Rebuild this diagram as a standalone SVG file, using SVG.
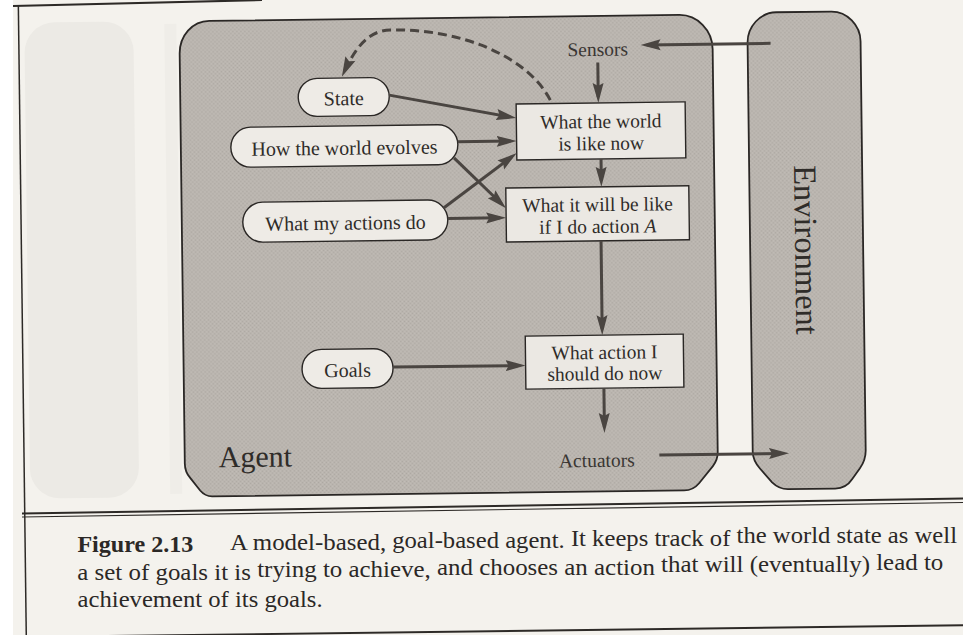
<svg xmlns="http://www.w3.org/2000/svg" width="963" height="635" viewBox="0 0 963 635">
  <defs>
    <style>
      .txt { font-family: "Liberation Serif", "Times New Roman", serif; fill: #2f2c29; }
      .node { font-size: 20px; text-anchor: middle; }
      .box-label { font-size: 19.5px; text-anchor: middle; }
      .port { font-size: 19.5px; text-anchor: middle; fill: #3a3633; }
      .pill { fill: #eeebe6; stroke: #2a2725; stroke-width: 1.4; }
      .box { fill: #ebe8e3; stroke: #2a2725; stroke-width: 1.4; }
      .panel { fill: url(#grain); stroke: #2a2725; stroke-width: 1.8; }
      .flow { fill: none; stroke: #4a4541; stroke-width: 3; marker-end: url(#ah); }
      .dashed { fill: none; stroke: #4a4541; stroke-width: 3; stroke-dasharray: 9 5; marker-end: url(#ah); }
      .rule { stroke: #2d2a27; fill: none; }
      .caption { font-size: 22.5px; fill: #2b2826; }
    </style>
    <pattern id="grain" width="4" height="4" patternUnits="userSpaceOnUse">
      <rect width="4" height="4" fill="#bab5af"/>
      <rect x="0" y="0" width="1" height="1" fill="#aca7a1"/>
      <rect x="2" y="2" width="1" height="1" fill="#afaaa4"/>
      <rect x="2" y="0" width="1" height="1" fill="#c3beb8"/>
      <rect x="0" y="2" width="1" height="1" fill="#c1bcb6"/>
    </pattern>
    <marker id="ah" markerUnits="userSpaceOnUse" markerWidth="22" markerHeight="14" refX="14" refY="7" orient="auto">
      <path d="M0,1.5 L20,7 L0,12.5 L3,7 Z" fill="#4a4541"/>
    </marker>
  </defs>

  <!-- paper -->
  <rect x="0" y="0" width="963" height="635" fill="#ffffff"/>
  <rect x="13" y="0" width="950" height="635" fill="#f4f2ed"/>

  <!-- page frame top edge and caption rules -->
  <g id="rules">
    <line class="rule" x1="13" y1="6" x2="262" y2="0" stroke-width="2"/>
    <line class="rule" x1="22" y1="513.5" x2="963" y2="498.5" stroke-width="2"/>
    <line class="rule" x1="22" y1="517" x2="963" y2="502.5" stroke-width="1.2"/>
  </g>

  <g transform="rotate(-0.72 480 317)">
    <!-- faint show-through shape on the left margin -->
    <rect x="28" y="17" width="109" height="476" rx="30" fill="#eceae5"/>
    <rect x="168" y="20" width="12" height="470" fill="#efede8"/>

    <!-- page frame -->
    <line class="rule" x1="22.3" y1="0" x2="22.3" y2="645" stroke-width="1.5"/>
    <line class="rule" x1="22.3" y1="631.3" x2="980" y2="631.3" stroke-width="2"/>

    <!-- agent panel -->
    <g id="agent">
      <path class="panel" d="M213,17.5 H683 C701,17.5 716,33 716,52 V455 Q716,463 711,469 L697,486 Q691,493 682,493 H210 Q203,493 198,487 L188,474 Q183,468 183,460 V50 C183,32 196,17.5 213,17.5 Z"/>
      <text class="txt" x="217" y="464" font-size="30" fill="#3b3733">Agent</text>
    </g>

    <!-- environment panel -->
    <g id="environment">
      <path class="panel" d="M780,16 H835 C851,16 864,30 864,46 V455 Q864,465 858,473 L850,484 Q844,493 833,493 H786 Q777,493 770,486 L758,472 Q751,464 751,455 V46 C751,30 764,16 780,16 Z"/>
      <text class="txt" transform="translate(796 254) rotate(90)" x="0" y="0" font-size="32.5" text-anchor="middle" fill="#3b3733">Environment</text>
    </g>

    <g id="sensors">
      <text class="txt port" x="601" y="57.4">Sensors</text>
    </g>
    <g id="actuators">
      <text class="txt port" x="595" y="468.4">Actuators</text>
    </g>

    <!-- rounded knowledge nodes -->
    <g id="state">
      <rect class="pill" x="301" y="76.3" width="91" height="38" rx="19"/>
      <text class="txt node" x="346.5" y="103.5">State</text>
    </g>
    <g id="world-evolves">
      <rect class="pill" x="233" y="124.3" width="227" height="40" rx="20"/>
      <text class="txt node" x="346.6" y="153">How the world evolves</text>
    </g>
    <g id="actions-do">
      <rect class="pill" x="244" y="199.4" width="205" height="40" rx="20"/>
      <text class="txt node" x="346.7" y="228">What my actions do</text>
    </g>
    <g id="goals">
      <rect class="pill" x="301.4" y="347.4" width="91" height="39" rx="19.5"/>
      <text class="txt node" x="346.9" y="375.2">Goals</text>
    </g>

    <!-- reasoning boxes -->
    <g id="world-now">
      <rect class="box" x="518.8" y="104.5" width="169" height="56"/>
      <text class="txt box-label" x="603.3" y="129.5">What the world</text>
      <text class="txt box-label" x="603.3" y="151.5">is like now</text>
    </g>
    <g id="will-be">
      <rect class="box" x="507.4" y="188.4" width="183" height="54"/>
      <text class="txt box-label" x="598.9" y="212.6">What it will be like</text>
      <text class="txt box-label" x="598.9" y="234.5">if I do action <tspan font-style="italic">A</tspan></text>
    </g>
    <g id="choose-action">
      <rect class="box" x="525" y="336.7" width="158" height="53"/>
      <text class="txt box-label" x="604" y="360.4">What action I</text>
      <text class="txt box-label" x="604" y="381.6">should do now</text>
    </g>

    <!-- connectors -->
    <g id="connectors">
      <path class="flow" d="M774,47 H650"/>
      <path class="flow" d="M601,64 V98.5"/>
      <path class="flow" d="M392,94 L512.9,117.4"/>
      <path class="flow" d="M460,141.5 H512.8"/>
      <path class="flow" d="M456,157.5 L503.1,204.3"/>
      <path class="flow" d="M445,207.6 L514,157"/>
      <path class="flow" d="M449,218 H501.4"/>
      <path class="flow" d="M603,160.5 V182.4"/>
      <path class="flow" d="M602,242.4 V330.7"/>
      <path class="flow" d="M392.4,366 H519"/>
      <path class="flow" d="M603,389.7 V428.5"/>
      <path class="flow" d="M657.6,457.2 H781.3"/>
      <path class="dashed" d="M553,101 C530,55 460,28 395,29 C372,28 358,48 347.5,69.6"/>
    </g>
  </g>

  <!-- caption, set in short runs that follow the page's slight tilt -->
  <g id="caption">
    <text class="txt caption" x="77.4" y="552.4" font-weight="bold" textLength="116" lengthAdjust="spacingAndGlyphs">Figure 2.13</text>
    <text class="txt caption" x="230" y="550.2" textLength="156.1" lengthAdjust="spacingAndGlyphs">A model-based,</text>
    <text class="txt caption" x="392.2" y="548.1" textLength="172.5" lengthAdjust="spacingAndGlyphs">goal-based agent.</text>
    <text class="txt caption" x="570.9" y="545.9" textLength="159.5" lengthAdjust="spacingAndGlyphs">It keeps track of</text>
    <text class="txt caption" x="736.6" y="543.4" textLength="220.4" lengthAdjust="spacingAndGlyphs">the world state as well</text>
    <text class="txt caption" x="77.3" y="579.5" textLength="173.6" lengthAdjust="spacingAndGlyphs">a set of goals it is</text>
    <text class="txt caption" x="257.2" y="577.3" textLength="173.6" lengthAdjust="spacingAndGlyphs">trying to achieve,</text>
    <text class="txt caption" x="437" y="574.7" textLength="217.9" lengthAdjust="spacingAndGlyphs">and chooses an action</text>
    <text class="txt caption" x="661.1" y="571.9" textLength="208.9" lengthAdjust="spacingAndGlyphs">that will (eventually)</text>
    <text class="txt caption" x="876.2" y="570.1" textLength="67.1" lengthAdjust="spacingAndGlyphs">lead to</text>
    <text class="txt caption" x="77.6" y="606.9" textLength="245" lengthAdjust="spacingAndGlyphs">achievement of its goals.</text>
  </g>
</svg>
